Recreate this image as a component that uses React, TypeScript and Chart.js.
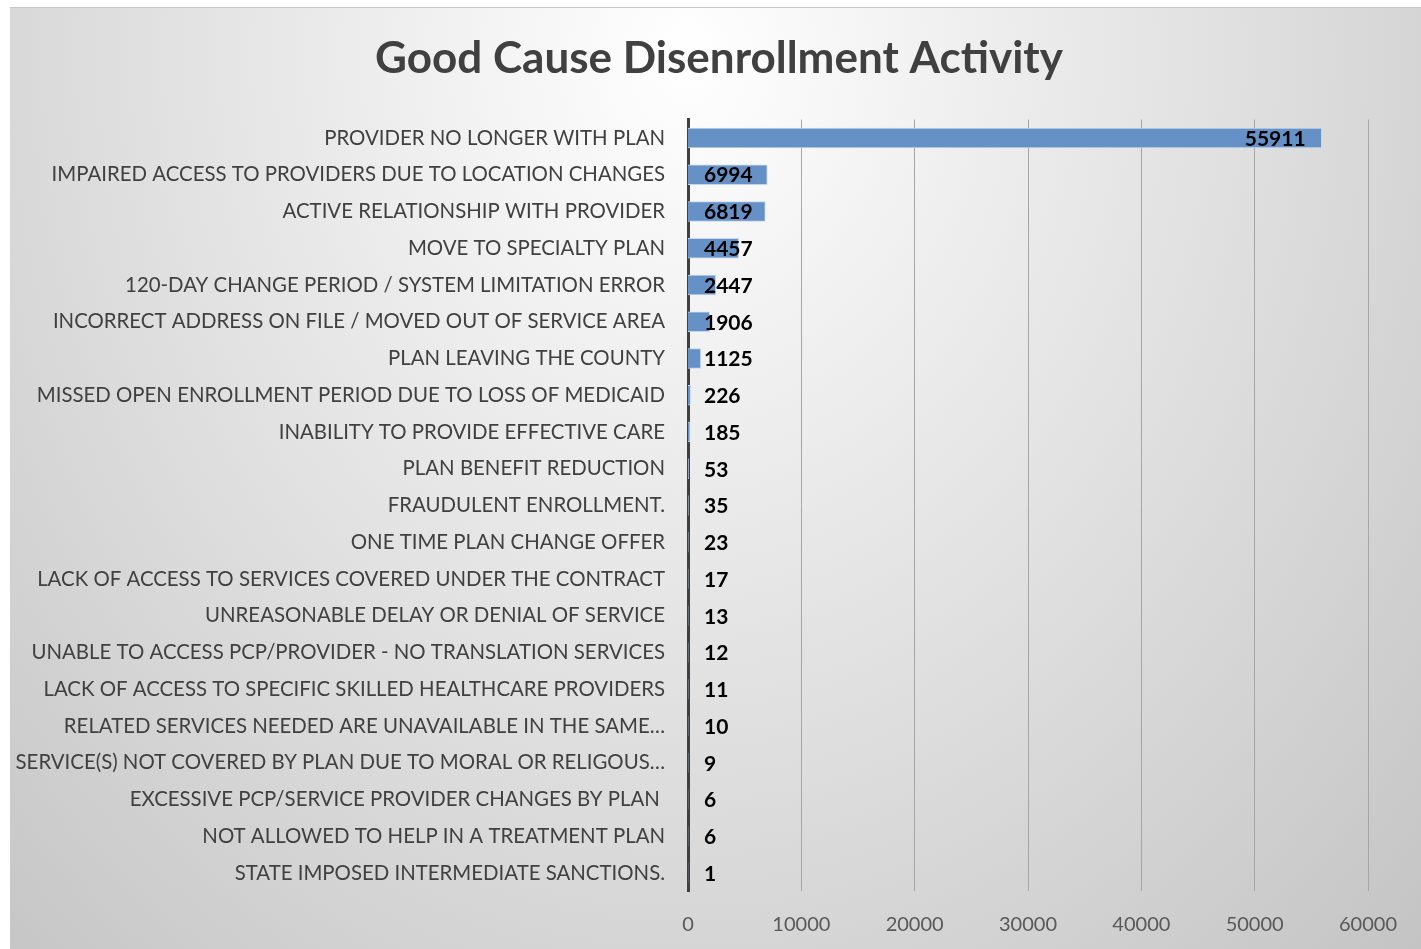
import React, { useEffect, useRef } from "react";
import { Chart, registerables } from "chart.js";
Chart.register(...registerables);

const categories = [
  "PROVIDER NO LONGER WITH PLAN",
  "IMPAIRED ACCESS TO PROVIDERS DUE TO LOCATION CHANGES",
  "ACTIVE RELATIONSHIP WITH PROVIDER",
  "MOVE TO SPECIALTY PLAN",
  "120-DAY CHANGE PERIOD / SYSTEM LIMITATION ERROR",
  "INCORRECT ADDRESS ON FILE / MOVED OUT OF SERVICE AREA",
  "PLAN LEAVING THE COUNTY",
  "MISSED OPEN ENROLLMENT PERIOD DUE TO LOSS OF MEDICAID",
  "INABILITY TO PROVIDE EFFECTIVE CARE",
  "PLAN BENEFIT REDUCTION",
  "FRAUDULENT ENROLLMENT.",
  "ONE TIME PLAN CHANGE OFFER",
  "LACK OF ACCESS TO SERVICES COVERED UNDER THE CONTRACT",
  "UNREASONABLE DELAY OR DENIAL OF SERVICE",
  "UNABLE TO ACCESS PCP/PROVIDER - NO TRANSLATION SERVICES",
  "LACK OF ACCESS TO SPECIFIC SKILLED HEALTHCARE PROVIDERS",
  "RELATED SERVICES NEEDED ARE UNAVAILABLE IN THE SAME…",
  "SERVICE(S) NOT COVERED BY PLAN DUE TO MORAL OR RELIGOUS…",
  "EXCESSIVE PCP/SERVICE PROVIDER CHANGES BY PLAN ",
  "NOT ALLOWED TO HELP IN A TREATMENT PLAN",
  "STATE IMPOSED INTERMEDIATE SANCTIONS.",
];

const counts = [55911, 6994, 6819, 4457, 2447, 1906, 1125, 226, 185, 53, 35, 23, 17, 13, 12, 11, 10, 9, 6, 6, 1];

const xTicks = [0, 10000, 20000, 30000, 40000, 50000, 60000];

const TITLE = "Good Cause Disenrollment Activity";

export default function App() {
  const ref = useRef<HTMLCanvasElement>(null);
  useEffect(() => {
    if (!ref.current) return;
    const titleAndLabels = {
      id: "titleAndLabels",
      afterDraw(chart: any) {
        const ctx = chart.ctx;
        ctx.save();
        ctx.font = "bold 44px Lato";
        ctx.fillStyle = "#404040";
        ctx.textAlign = "center";
        ctx.textBaseline = "middle";
        ctx.fillText(TITLE, 709, 51);
        ctx.restore();
      },
      afterDatasetsDraw(chart: any) {
        const ctx = chart.ctx;
        const meta = chart.getDatasetMeta(0);
        const x0 = chart.scales.x.getPixelForValue(0);
        ctx.save();
        ctx.font = "bold 21px Lato";
        ctx.fillStyle = "#000000";
        ctx.textBaseline = "middle";
        ctx.textAlign = "left";
        meta.data.forEach((bar: any, i: number) => {
          const txt = String(counts[i]);
          const w = ctx.measureText(txt).width;
          const x = Math.max(x0 + 16, bar.x - 16 - w);
          ctx.fillText(txt, x, bar.y + 1);
        });
        ctx.restore();
      },
    };
    const chart = new Chart(ref.current, {
      type: "bar",
      data: {
        labels: categories,
        datasets: [
          {
            data: counts,
            backgroundColor: "#6591c7",
            borderColor: "#c5d5ec",
            borderWidth: 1,
            barThickness: 20,
          },
        ],
      },
      options: {
        indexAxis: "y",
        responsive: false,
        animation: false,
        layout: { padding: { left: 0, right: 53, top: 111.6, bottom: 0 } },
        plugins: {
          legend: { display: false },
          tooltip: { enabled: false },
          title: { display: false },
        },
        scales: {
          x: {
            min: 0,
            max: 60000,
            afterBuildTicks: (s: any) => {
              s.ticks = xTicks.map((v) => ({ value: v }));
            },
            grid: {
              color: "#a6a6a6",
              drawTicks: false,
              lineWidth: (c: any) => (c.tick && c.tick.value === 0 ? 0 : 1),
            },
            border: { display: false },
            ticks: {
              color: "#595959",
              font: { family: "Lato", size: 20 },
              padding: 21,
              callback: (v: any) => String(v),
            },
            afterFit: (s: any) => {
              s.height = 57.6;
            },
          },
          y: {
            grid: { display: false, drawTicks: false },
            border: { display: true, color: "#404040", width: 3 },
            ticks: { color: "#404040", font: { family: "Lato", size: 20.4 }, padding: 23, autoSkip: false },
            afterFit: (s: any) => {
              s.width = 678;
            },
          },
        },
      } as any,
      plugins: [titleAndLabels],
    });
    return () => chart.destroy();
  }, []);
  return (
    <div
      style={{
        position: "fixed",
        left: 10,
        top: 7,
        width: 1411,
        height: 942,
        background:
          "radial-gradient(ellipse farthest-corner at 48% 5%, #ffffff 0%, #f2f2f2 22%, #c4c4c4 100%)",
        borderTop: "1px solid #c8c8c8",
        boxSizing: "border-box",
      }}
    >
      <canvas ref={ref} width={1411} height={941} style={{ display: "block" }} />
    </div>
  );
}
